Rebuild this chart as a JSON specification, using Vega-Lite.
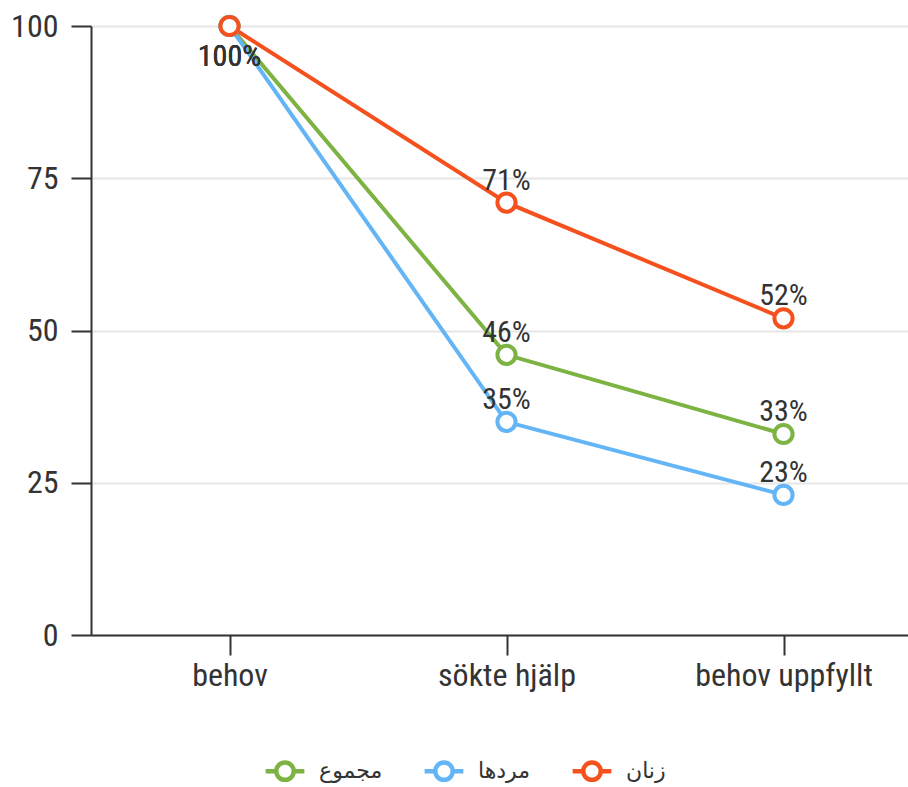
{
  "$schema": "https://vega.github.io/schema/vega-lite/v6.json",
  "autosize": "none",
  "width": 831,
  "height": 609,
  "padding": {"left": 91, "top": 26, "right": 0, "bottom": 152},
  "background": "white",
  "config": {
    "view": {"stroke": null},
    "font": "Roboto Condensed, Liberation Sans Narrow, DejaVu Sans Condensed, sans-serif"
  },
  "data": {
    "values": [
      {"stage": "behov", "group": "مجموع", "value": 100, "label": "100%"},
      {"stage": "sökte hjälp", "group": "مجموع", "value": 46, "label": "46%"},
      {"stage": "behov uppfyllt", "group": "مجموع", "value": 33, "label": "33%"},
      {"stage": "behov", "group": "مردها", "value": 100, "label": "100%"},
      {"stage": "sökte hjälp", "group": "مردها", "value": 35, "label": "35%"},
      {"stage": "behov uppfyllt", "group": "مردها", "value": 23, "label": "23%"},
      {"stage": "behov", "group": "زنان", "value": 100, "label": "100%"},
      {"stage": "sökte hjälp", "group": "زنان", "value": 71, "label": "71%"},
      {"stage": "behov uppfyllt", "group": "زنان", "value": 52, "label": "52%"}
    ]
  },
  "encoding": {
    "x": {
      "field": "stage", "type": "nominal",
      "sort": ["behov", "sökte hjälp", "behov uppfyllt"],
      "scale": {"type": "point", "padding": 0.5},
      "axis": {
        "title": null, "labelAngle": 0, "labelFontSize": 32, "labelColor": "#333",
        "domainColor": "#333", "domainWidth": 2, "tickColor": "#333", "tickWidth": 2,
        "tickSize": 20, "labelPadding": 5, "grid": false
      }
    },
    "y": {
      "field": "value", "type": "quantitative",
      "scale": {"domain": [0, 100], "nice": false},
      "axis": {
        "title": null, "values": [0, 25, 50, 75, 100], "labelFontSize": 32, "labelColor": "#333",
        "domainColor": "#333", "domainWidth": 2, "tickColor": "#333", "tickWidth": 2,
        "tickSize": 20, "labelPadding": 13, "gridColor": "#e6e6e6", "gridWidth": 2
      }
    }
  },
  "layer": [
    {
      "mark": {"type": "line", "strokeWidth": 4},
      "encoding": {
        "stroke": {
          "field": "group", "type": "nominal",
          "sort": ["مجموع", "مردها", "زنان"],
          "scale": {"domain": ["مجموع", "مردها", "زنان"], "range": ["#7cb342", "#64b5f6", "#f4511e"]},
          "legend": {
            "title": null, "orient": "none", "direction": "horizontal",
            "legendX": 172, "legendY": 723,
            "symbolType": "M-1,0H-0.45M0.45,0H1M0.45,0A0.45,0.45 0 1,1 -0.45,0A0.45,0.45 0 1,1 0.45,0",
            "symbolSize": 1500, "symbolStrokeWidth": 4.5, "symbolFillColor": "white",
            "labelFont": "DejaVu Sans", "labelFontSize": 22, "labelColor": "#333",
            "columnPadding": 32, "labelOffset": 12
          }
        }
      }
    },
    {
      "mark": {"type": "point", "shape": "circle", "filled": true, "size": 330, "strokeWidth": 4, "opacity": 1},
      "encoding": {
        "stroke": {"field": "group", "type": "nominal"},
        "fill": {"value": "white"}
      }
    },
    {
      "transform": [{"filter": "datum.value < 100"}],
      "mark": {"type": "text", "dy": -22, "fontSize": 30, "fill": "#333"},
      "encoding": {"text": {"field": "label"}}
    },
    {
      "transform": [{"filter": "datum.value >= 100"}],
      "mark": {"type": "text", "dy": 31, "fontSize": 30, "fill": "#333"},
      "encoding": {"text": {"field": "label"}}
    }
  ]
}
